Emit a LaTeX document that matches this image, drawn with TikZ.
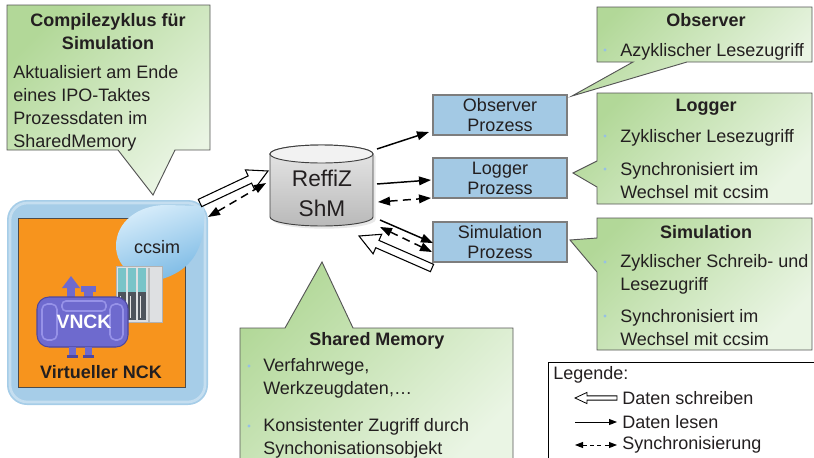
\documentclass[tikz,border=0pt]{standalone}
\usepackage{fontspec}
\setmainfont{Liberation Sans}
\usetikzlibrary{calc,arrows.meta,shadows}

\definecolor{textc}{RGB}{35,31,32}
\definecolor{greenA}{RGB}{178,216,152}
\definecolor{greenB}{RGB}{234,245,228}
\definecolor{lineGray}{RGB}{85,85,85}
\definecolor{procFill}{RGB}{163,201,228}
\definecolor{procDraw}{RGB}{125,125,125}
\definecolor{outerBlue}{RGB}{166,205,232}
\definecolor{nckOrange}{RGB}{247,148,29}
\definecolor{bubbleTop}{RGB}{214,236,250}
\definecolor{bubbleBot}{RGB}{120,184,228}
\definecolor{bulletBlue}{RGB}{150,192,230}
\definecolor{tankC}{RGB}{110,106,206}
\definecolor{tankD}{RGB}{78,72,160}
\definecolor{tankL}{RGB}{150,146,232}
\definecolor{drvDark}{RGB}{78,84,92}
\definecolor{drvCyan}{RGB}{120,196,200}
\definecolor{drvLight}{RGB}{222,224,226}

\tikzset{
  txt/.style={font=\fontsize{13.5}{17.25}\selectfont, text=textc, inner sep=0pt},
  ttl/.style={font=\fontsize{13.5}{17.25}\selectfont\bfseries, text=textc, inner sep=0pt},
  callout/.style={draw=lineGray, line width=0.7pt, top color=greenA, bottom color=greenB, shading angle=45},
  procbox/.style={draw=procDraw, fill=procFill, line width=0.8pt, minimum width=100.5pt,
    minimum height=30pt, inner sep=0pt, align=center, font=\fontsize{13.5}{15}\selectfont, text=textc},
  bulletdot/.style={fill=bulletBlue, draw=none, circle, inner sep=0pt, minimum size=2.6pt},
  hollow/.style n args={3}{to path={
    let \p1=($(\tikztotarget)-(\tikztostart)$),
        \n1={atan2(\y1,\x1)},
        \n2={veclen(\x1,\y1)-#3}
    in ($(\tikztostart)+(\n1+90:#1)$)
    -- ($(\tikztostart)+(\n1:\n2)+(\n1+90:#1)$)
    -- ($(\tikztostart)+(\n1:\n2)+(\n1+90:#2)$)
    -- (\tikztotarget)
    -- ($(\tikztostart)+(\n1:\n2)+(\n1-90:#2)$)
    -- ($(\tikztostart)+(\n1:\n2)+(\n1-90:#1)$)
    -- ($(\tikztostart)+(\n1-90:#1)$)
    -- cycle}},
  writearrow/.style={hollow={3pt}{8pt}{15pt}, draw=black, fill=white, line width=0.8pt, line join=miter},
  writekey/.style={hollow={1.6pt}{4.2pt}{9pt}, draw=black, fill=white, line width=0.6pt, line join=miter},
  readarrow/.style={line width=1.1pt, -{Triangle[length=9pt,width=6.5pt]}},
  syncarrow/.style={line width=1.1pt, dash pattern=on 6pt off 4pt,
    {Triangle[length=9pt,width=6.5pt]}-{Triangle[length=9pt,width=6.5pt]}},
  readkey/.style={line width=0.7pt, -{Triangle[length=6pt,width=4.5pt]}},
  synckey/.style={line width=0.7pt, dash pattern=on 3pt off 2.5pt,
    {Triangle[length=6pt,width=4.5pt]}-{Triangle[length=6pt,width=4.5pt]}},
}

\begin{document}
\begin{tikzpicture}[x=0.75pt,y=-0.75pt]
\useasboundingbox (0,0) rectangle (814,457);
\clip (0,0) rectangle (814,457);

% ---------- speech callouts ----------
\path[callout] (7,5) -- (210,5) -- (210,150) -- (175,150) -- (153,195) -- (118,150) -- (7,150) -- cycle;
\path[callout] (597,7) -- (812,7) -- (812,62) -- (687,62) -- (572,96) -- (633,62) -- (597,62) -- cycle;
\path[callout] (597,93) -- (812,93) -- (812,204) -- (597,204) -- (597,187) -- (573,173) -- (597,161) -- cycle;
\path[callout] (597,218) -- (812,218) -- (812,350) -- (597,350) -- (597,272) -- (570,240) -- (597,238) -- cycle;
\path[callout] (240,328) -- (285,328) -- (322,262) -- (353,328) -- (513,328) -- (513,475) -- (240,475) -- cycle;

% ---------- virtual NCK ----------
\fill[outerBlue, rounded corners=15pt] (7,200) rectangle (208,405);
\draw[white, opacity=0.35, line width=2pt, rounded corners=13pt] (10,203) rectangle (205,402);
\filldraw[fill=nckOrange, draw=black!70, line width=0.5pt] (18,218) rectangle (185,387);

% ccsim bubble
\path[top color=bubbleTop, bottom color=bubbleBot, shading angle=20]
  (204,206) .. controls (206,240) and (198,268) .. (162,279)
  .. controls (138,284) and (116,268) .. (116,246)
  .. controls (116,222) and (138,205) .. (166,205) -- cycle;
\node[txt] (ccsim) at (157,247) {ccsim};

% drive unit
\fill[drvLight] (116,266) rectangle (162,322);
\foreach \mx in {118,128,138} {
  \fill[drvDark] (\mx,268) rectangle (\mx+8,320);
  \fill[drvCyan] (\mx,268) rectangle (\mx+8,292);
  \draw[white!80!gray, line width=0.4pt] (\mx+2,296) -- (\mx+2,318);
}
\fill[gray!55] (148,268) rectangle (150,322);
\draw[gray!60, line width=0.4pt] (116,266) rectangle (162,322);

% tank
\fill[tankC] (67,284) rectangle (75,298);
\fill[tankC] (62,288) -- (71,276) -- (80,288) -- cycle;
\fill[tankC] (84,290) rectangle (93,298);
\fill[tankC] (81,286) rectangle (96,292);
\filldraw[fill=tankC, draw=tankD, line width=0.8pt, rounded corners=9pt] (37,297) rectangle (128,347);
\draw[tankL, line width=1.2pt, rounded corners=4pt] (42,304) rectangle (57,340);
\draw[tankL, line width=1.2pt, rounded corners=4pt] (110,304) rectangle (123,340);
\draw[tankL, line width=1.2pt, rounded corners=3pt] (62,301) rectangle (106,311);
\fill[tankC] (69,347) rectangle (76,357);
\fill[tankC] (85,347) rectangle (92,357);
\fill[tankD] (67,355) rectangle (78,358);
\fill[tankD] (83,355) rectangle (94,358);
\node[font=\fontsize{14.5}{16}\selectfont\bfseries, text=white, inner sep=0pt] (vnck) at (84,322) {VNCK};
\node[ttl] (vnckName) at (101,372) {Virtueller NCK};

% ---------- shared memory cylinder ----------
\path[top color=gray!18, bottom color=gray!55, draw=black!75, line width=0.7pt,
      drop shadow={shadow xshift=2pt, shadow yshift=-2pt, opacity=0.18}]
  (270,154) -- (270,217) arc[start angle=180, end angle=360, x radius=38.63pt, y radius=6.75pt]
  -- (373,154) arc[start angle=0, end angle=180, x radius=38.63pt, y radius=6.75pt] -- cycle;
\draw[fill=gray!10, draw=black!75, line width=0.7pt] (321.5,154) ellipse [x radius=38.63pt, y radius=6.75pt];
\node[font=\fontsize{17}{22.5}\selectfont, text=textc, align=center, inner sep=0pt] (shm) at (322,193) {ReffiZ\\ShM};

% ---------- processes ----------
\node[procbox] (obs) at (500,115) {Observer\\Prozess};
\node[procbox] (log) at (500,178) {Logger\\Prozess};
\node[procbox] (sim) at (500,242) {Simulation\\Prozess};

% ---------- connector ends ----------
\coordinate (ccWriteTail) at (200,203);
\coordinate (shmWriteIn)  at (268,171);
\coordinate (ccSync)      at (208,217);
\coordinate (shmSyncL)    at (266,183);
\coordinate (shmObs)      at (377,149);
\coordinate (obsIn)       at (429,132);
\coordinate (shmLog)      at (377,184);
\coordinate (logIn)       at (431,180);
\coordinate (shmLogSync)  at (378,202);
\coordinate (logSync)     at (431,198);
\coordinate (shmSim)      at (380,220);
\coordinate (simIn)       at (433,243);
\coordinate (shmSimSync)  at (380,227);
\coordinate (simSync)     at (432,252);
\coordinate (simWriteTail) at (432,268);
\coordinate (shmWriteR)   at (359,236);

\draw[writearrow] (ccWriteTail) to (shmWriteIn);
\draw[syncarrow] (ccSync) -- (shmSyncL);
\draw[readarrow] (shmObs) -- (obsIn);
\draw[readarrow] (shmLog) -- (logIn);
\draw[syncarrow] (shmLogSync) -- (logSync);
\draw[readarrow] (shmSim) -- (simIn);
\draw[syncarrow] (shmSimSync) -- (simSync);
\draw[writearrow] (simWriteTail) to (shmWriteR);

% ---------- callout texts ----------
\node[ttl, align=center] (cTitle) at (108,32) {Compilezyklus für\\Simulation};
\node[txt, align=left, anchor=west] (cBody) at (13,108) {Aktualisiert am Ende\\eines IPO-Taktes\\Prozessdaten im\\SharedMemory};

\node[ttl] (oTitle) at (706,20) {Observer};
\node[bulletdot] (oB1) at (605,50) {};
\node[txt, anchor=west] (oT1) at (620,52) {Azyklischer Lesezugriff};

\node[ttl] (lTitle) at (706,107) {Logger};
\node[bulletdot] (lB1) at (605,136) {};
\node[txt, anchor=west] (lT1) at (620,138) {Zyklischer Lesezugriff};
\node[bulletdot] (lB2) at (605,169) {};
\node[txt, anchor=west, align=left] (lT2) at (620,181) {Synchronisiert im\\Wechsel mit ccsim};

\node[ttl] (sTitle) at (706,232) {Simulation};
\node[bulletdot] (sB1) at (605,262) {};
\node[txt, anchor=west, align=left] (sT1) at (620,274) {Zyklischer Schreib- und\\Lesezugriff};
\node[bulletdot] (sB2) at (605,316) {};
\node[txt, anchor=west, align=left] (sT2) at (620,328) {Synchronisiert im\\Wechsel mit ccsim};

\node[ttl] (mTitle) at (377,341) {Shared Memory};
\node[bulletdot] (mB1) at (249,366) {};
\node[txt, anchor=west, align=left] (mT1) at (263,378) {Verfahrwege,\\Werkzeugdaten,…};
\node[bulletdot] (mB2) at (249,426) {};
\node[txt, anchor=west, align=left] (mT2) at (263,438) {Konsistenter Zugriff durch\\Synchonisationsobjekt};

% ---------- key ----------
\draw[black, fill=white, line width=0.7pt] (548,362) rectangle (830,475);
\node[txt, anchor=west] (kTitle) at (553,375) {Legende:};
\coordinate (kW1) at (617,398);
\coordinate (kW2) at (575,398);
\coordinate (kR1) at (575,422);
\coordinate (kR2) at (617,422);
\coordinate (kS1) at (575,445);
\coordinate (kS2) at (617,445);
\draw[writekey] (kW1) to (kW2);
\draw[readkey] (kR1) -- (kR2);
\draw[synckey] (kS1) -- (kS2);
\node[txt, anchor=west] (kT1) at (622,398) {Daten schreiben};
\node[txt, anchor=west] (kT2) at (622,422) {Daten lesen};
\node[txt, anchor=west] (kT3) at (622,445) {Synchronisierung};
\end{tikzpicture}
\end{document}
